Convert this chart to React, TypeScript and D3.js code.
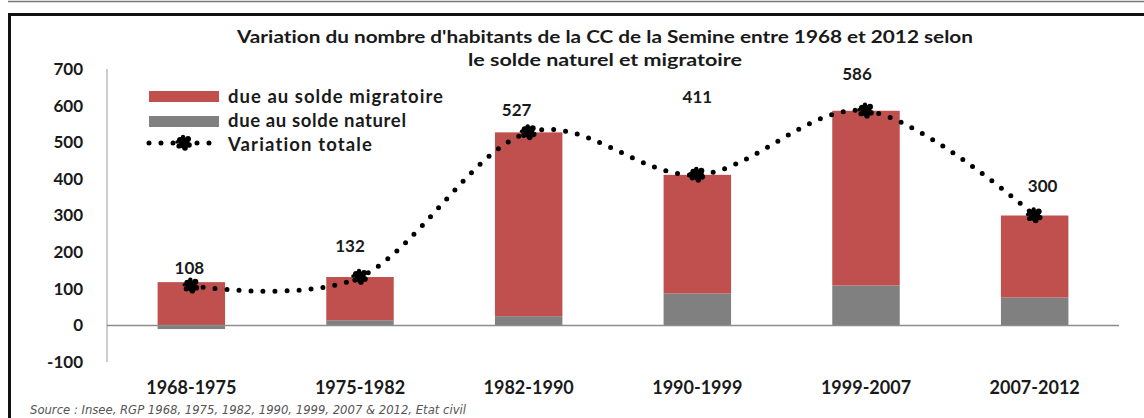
import React from "react";
import * as d3 from "d3";

const categories = ["1968-1975", "1975-1982", "1982-1990", "1990-1999", "1999-2007", "2007-2012"];
const naturalValues = [-10, 14, 25, 87, 109, 76];
const migratoryValues = [118, 118, 502, 324, 477, 224];
const totalValues = [108, 132, 527, 411, 586, 300];
const yTicks = [-100, 0, 100, 200, 300, 400, 500, 600, 700];
const titleLines = [
  "Variation du nombre d'habitants de la CC de la Semine entre 1968 et 2012 selon",
  "le solde naturel et migratoire",
];
const legendLabels = ["due au solde migratoire", "due au solde naturel", "Variation totale"];
const sourceText = "Source : Insee, RGP 1968, 1975, 1982, 1990, 1999, 2007 & 2012, Etat civil";

// layout: pixel nudges for the value labels (hand-placed in the original)
const labelShift: [number, number][] = [[-2, -18], [-10, -31], [-12, -22], [0, -78], [-9, -37], [8, -29]];
// layout: legend text widths
const legendWidths = [215, 178, 144];

const W = 1144, H = 418;
const RED = "#C0504D", GRAY = "#808080";
const FONT = "Lato, 'Open Sans', sans-serif";

// jagged blob marker made of overlapping dots
const blobDots: [number, number, number][] = [[0, 0, 5.5], [-4, -3, 3], [4, -4, 3], [5, 2, 2.8], [-5, 3, 2.6], [1, 5, 2.8], [-1, -6, 2.2], [-7, -1, 1.8]];

export default function App() {
  const x = d3.scaleBand<string>().domain(categories).range([107, 1119]).paddingInner(0.6).paddingOuter(0.3);
  const y = d3.scaleLinear().domain([-100, 700]).range([362, 69]);
  const cx = (c: string) => (x(c) as number) + x.bandwidth() / 2;

  const pts: [number, number][] = categories.map((c, i) => [cx(c), y(totalValues[i])]);
  const line = d3.line().curve(d3.curveCatmullRom.alpha(0))(pts) as string;

  const marker = (px: number, py: number, key: string) => (
    <g key={key} transform={`translate(${px},${py})`}>
      {blobDots.map((b, j) => <circle key={j} cx={b[0]} cy={b[1]} r={b[2]} fill="#000" />)}
    </g>
  );

  return (
    <svg width={W} height={H} style={{ position: "absolute", left: 0, top: 0, background: "#fff", fontVariantLigatures: "none", fontFeatureSettings: "'liga' 0, 'dlig' 0" }}>
      <rect width={W} height={H} fill="#fff" />
      {/* frame */}
      <line x1={8} x2={W} y1={1.5} y2={1.5} stroke="#777" strokeWidth={1.5} />
      <line x1={8} x2={W} y1={14.5} y2={14.5} stroke="#111" strokeWidth={3} />
      <line x1={9.5} x2={9.5} y1={13} y2={H} stroke="#111" strokeWidth={3} />

      {/* title */}
      {titleLines.map((t, i) => (
        <text key={t} x={605} y={37 + i * 23} dy="0.35em" textAnchor="middle" fontFamily={FONT}
          fontWeight={700} fontSize={16.5} fill="#1a1a1a"
          textLength={i === 0 ? 736 : 274} lengthAdjust="spacingAndGlyphs">{t}</text>
      ))}

      {/* y axis */}
      <line x1={107} x2={107} y1={y(700)} y2={y(-100)} stroke="#BDBDBD" strokeWidth={1.5} />
      {yTicks.map((t) => (
        <text key={t} x={83} y={y(t)} dy="0.35em" textAnchor="end" fontFamily={FONT} fontWeight={700}
          fontSize={17} fill="#1a1a1a">{t}</text>
      ))}

      {/* bars */}
      {categories.map((c, i) => {
        const n = naturalValues[i];
        const m = migratoryValues[i];
        const base = n > 0 ? n : 0;
        return (
          <g key={c}>
            <rect x={x(c)} width={x.bandwidth()} y={y(Math.max(n, 0))} height={Math.abs(y(n) - y(0))} fill={GRAY} />
            <rect x={x(c)} width={x.bandwidth()} y={y(base + m)} height={y(base) - y(base + m)} fill={RED} />
          </g>
        );
      })}

      {/* zero line */}
      <line x1={107} x2={1119} y1={y(0)} y2={y(0)} stroke="#8C8C8C" strokeWidth={1.5} />

      {/* total line */}
      <path d={line} fill="none" stroke="#000" strokeWidth={5} strokeDasharray="0 12" strokeLinecap="round" />
      {pts.map((p, i) => marker(p[0], p[1], "m" + i))}

      {/* value labels */}
      {categories.map((c, i) => (
        <text key={"v" + c} x={pts[i][0] + labelShift[i][0]} y={pts[i][1] + labelShift[i][1]} dy="0.35em"
          textAnchor="middle" fontFamily={FONT} fontWeight={700} fontSize={17} fill="#1a1a1a">{totalValues[i]}</text>
      ))}

      {/* x labels */}
      {categories.map((c) => (
        <text key={"x" + c} x={cx(c)} y={388} dy="0.35em" textAnchor="middle" fontFamily={FONT}
          fontWeight={700} fontSize={18} fill="#1a1a1a">{c}</text>
      ))}

      {/* legend */}
      <rect x={149} y={91} width={70} height={11} fill={RED} />
      <rect x={149} y={116} width={70} height={11} fill={GRAY} />
      <line x1={149} x2={212} y1={143} y2={143} stroke="#000" strokeWidth={5} strokeDasharray="0 12" strokeLinecap="round" />
      {marker(184, 143, "lm")}
      {legendLabels.map((l, i) => (
        <text key={l} x={228} y={97 + i * 24} dy="0.35em" fontFamily={FONT} fontWeight={700} fontSize={18.5}
          fill="#1a1a1a" textLength={legendWidths[i]} lengthAdjust="spacing">{l}</text>
      ))}

      {/* source */}
      <text x={30} y={409} dy="0.35em" fontFamily="'DejaVu Sans', sans-serif" fontStyle="italic" fontSize={13}
        fill="#555" textLength={436} lengthAdjust="spacingAndGlyphs">{sourceText}</text>
    </svg>
  );
}
